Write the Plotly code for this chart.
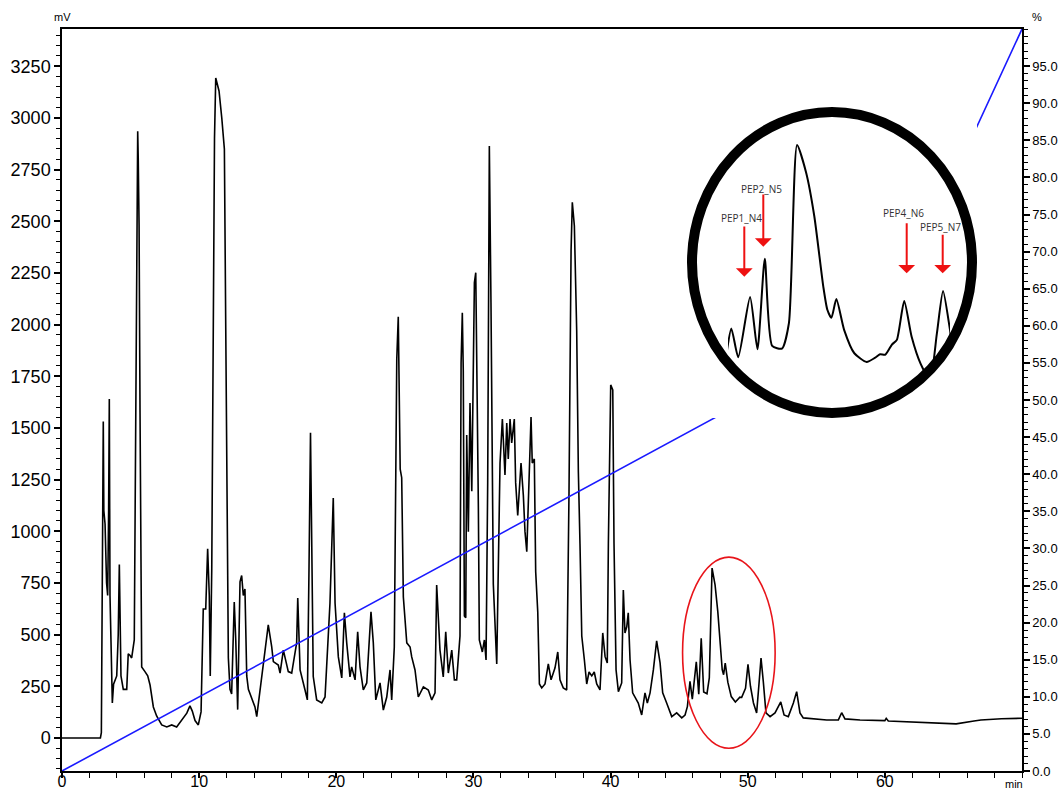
import numpy as np
import plotly.graph_objects as go

# UV trace (time in min, signal in mV)
time_min = [
    0.00, 2.80, 2.87, 2.90, 2.95, 2.98, 3.01, 3.05, 3.14, 3.25, 3.33, 3.40, 3.45, 3.50, 3.67, 3.76,
    3.85, 3.99, 4.10, 4.18, 4.30, 4.47, 4.72, 4.83, 4.95, 5.08, 5.27, 5.37, 5.46, 5.52, 5.56, 5.62,
    5.69, 5.81, 6.05, 6.25, 6.42, 6.66, 6.90, 7.27, 7.64, 8.00, 8.36, 8.73, 9.10, 9.33, 9.50, 9.70,
    9.94, 10.14, 10.30, 10.48, 10.62, 10.74, 10.81, 10.92, 11.03, 11.12, 11.21, 11.45, 11.65, 11.84,
    11.94, 12.13, 12.25, 12.37, 12.56, 12.67, 12.81, 12.98, 13.10, 13.22, 13.34, 13.47, 13.59, 13.83,
    14.07, 14.20, 14.56, 15.04, 15.29, 15.41, 15.77, 15.90, 16.14, 16.50, 16.75, 17.11, 17.19, 17.36,
    17.72, 17.89, 18.01, 18.12, 18.32, 18.57, 18.94, 19.18, 19.54, 19.78, 19.91, 20.15, 20.40, 20.59,
    20.76, 21.00, 21.12, 21.37, 21.56, 21.73, 21.97, 22.22, 22.53, 22.70, 22.88, 23.19, 23.43, 23.68,
    23.92, 24.04, 24.23, 24.35, 24.41, 24.52, 24.66, 24.77, 24.89, 25.14, 25.38, 25.50, 25.74, 25.98,
    26.35, 26.71, 26.96, 27.20, 27.32, 27.56, 27.80, 27.98, 28.17, 28.42, 28.61, 28.78, 29.02, 29.10,
    29.19, 29.26, 29.34, 29.44, 29.51, 29.63, 29.75, 29.88, 30.07, 30.17, 30.24, 30.36, 30.43, 30.65,
    30.80, 30.92, 31.04, 31.16, 31.28, 31.45, 31.70, 31.94, 32.11, 32.30, 32.43, 32.54, 32.67, 32.79,
    32.98, 33.08, 33.23, 33.47, 33.64, 33.76, 33.89, 34.05, 34.20, 34.29, 34.44, 34.54, 34.69, 34.81,
    34.98, 35.22, 35.46, 35.66, 35.95, 36.15, 36.31, 36.55, 36.80, 36.97, 37.12, 37.21, 37.36, 37.53,
    37.65, 37.77, 37.90, 38.09, 38.26, 38.43, 38.63, 38.81, 38.99, 39.23, 39.43, 39.60, 39.76, 39.84,
    40.01, 40.16, 40.25, 40.40, 40.57, 40.81, 40.93, 41.05, 41.18, 41.29, 41.42, 41.61, 41.78, 42.02,
    42.27, 42.51, 42.68, 42.88, 43.12, 43.36, 43.61, 43.80, 44.09, 44.46, 44.82, 45.19, 45.43, 45.60,
    45.79, 45.96, 46.25, 46.43, 46.61, 46.79, 47.03, 47.20, 47.40, 47.62, 47.82, 48.04, 48.14, 48.24,
    48.36, 48.55, 48.80, 49.10, 49.30, 49.43, 49.56, 49.72, 49.84, 50.02, 50.20, 50.42, 50.65, 50.82,
    50.97, 51.14, 51.33, 51.63, 51.99, 52.41, 52.65, 52.96, 53.33, 53.57, 53.81, 54.05, 54.78, 55.76,
    56.61, 56.85, 57.09, 58.19, 60.00, 60.10, 60.25, 62.00, 64.00, 64.75, 65.20, 66.50, 67.00, 68.50,
    70.00,
]
signal_mv = [
    0, 0, 25, 400, 1000, 1090, 1531, 1100, 1035, 750, 689, 1100, 1640, 689, 169, 260,
    278, 300, 500, 839, 300, 235, 235, 407, 400, 387, 474, 1574, 2600, 2935, 2800, 2482,
    1574, 343, 321, 300, 256, 150, 106, 63, 53, 63, 53, 84, 120, 155, 130, 84,
    63, 126, 624, 624, 915, 689, 300, 818, 2093, 2900, 3193, 3130, 3000, 2849,
    1983, 387, 235, 213, 658, 474, 137, 755, 786, 689, 721, 300, 235, 193,
    150, 103, 297, 547, 442, 369, 353, 314, 425, 321, 314, 460, 677, 329,
    232, 184, 813, 1476, 297, 184, 169, 198, 653, 1161, 653, 392, 290, 605,
    460, 295, 344, 281, 513, 344, 232, 266, 610, 460, 184, 266, 135, 198,
    329, 184, 440, 1282, 1833, 2038, 1300, 1259, 682, 460, 440, 392, 329, 198,
    247, 232, 184, 218, 740, 425, 295, 513, 314, 425, 281, 281, 493, 1814,
    2057, 1776, 590, 581, 1466, 998, 1620, 1193, 2203, 2251, 1872, 1115, 474, 416,
    474, 377, 1234, 2864, 2106, 745, 358, 1330, 1543, 1272, 1524, 1350, 1543, 1427,
    1543, 1234, 1076, 1330, 1173, 998, 901, 1253, 1553, 1330, 1350, 804, 610, 261,
    242, 261, 358, 281, 339, 416, 281, 242, 232, 1193, 2358, 2592, 2477, 1969,
    1292, 940, 493, 377, 261, 319, 300, 319, 261, 232, 508, 393, 363, 943,
    1708, 1684, 943, 329, 224, 266, 716, 508, 538, 605, 377, 218, 200, 169,
    111, 218, 169, 218, 329, 470, 363, 218, 169, 103, 121, 97, 111, 151,
    274, 188, 368, 212, 482, 222, 214, 290, 822, 740, 610, 400, 330, 306,
    362, 270, 200, 174, 186, 197, 196, 226, 240, 356, 250, 169, 121, 260,
    386, 270, 121, 103, 121, 174, 111, 103, 169, 224, 121, 97, 92, 87,
    87, 122, 92, 87, 84, 95, 82, 78, 72, 70, 68, 82, 87, 93,
    95,
]

# Solvent B gradient programme (%)
gradient_min = [0, 60, 70]
gradient_pct = [0, 60, 100]

# Axis ticks
mv_ticks = list(range(0, 3251, 250))
pct_ticks = list(range(0, 96, 5))
min_ticks = list(range(0, 61, 10))

# Peak labels shown in the magnified view
peak_labels = ["PEP1_N4", "PEP2_N5", "PEP4_N6", "PEP5_N7"]

W, H = 1060, 790
L, R, T, B = 62, 38, 29, 19
PW, PH = W - L - R, H - T - B


def px2paper(px, py):
    return (px - L) / PW, (H - B - py) / PH


fig = go.Figure()

fig.add_trace(go.Scatter(
    x=time_min, y=signal_mv, mode="lines",
    line=dict(color="black", width=1.6), xaxis="x", yaxis="y",
    hoverinfo="skip", showlegend=False,
))
fig.add_trace(go.Scatter(
    x=gradient_min, y=gradient_pct, mode="lines",
    line=dict(color="#1a1aff", width=1.6), xaxis="x", yaxis="y2",
    hoverinfo="skip", showlegend=False,
))

# white disc behind the magnifier (own pixel-like axes)
circ_cx, circ_cy, circ_rx, circ_ry = 832, 262.5, 145, 155.5
theta = np.linspace(0, 2 * np.pi, 241)
fig.add_trace(go.Scatter(
    x=circ_cx + circ_rx * np.cos(theta), y=circ_cy + circ_ry * np.sin(theta),
    mode="lines", fill="toself", fillcolor="white", line=dict(width=0, color="white"),
    xaxis="x3", yaxis="y3", hoverinfo="skip", showlegend=False,
))

# magnified trace
fig.add_trace(go.Scatter(
    x=time_min, y=signal_mv, mode="lines",
    line=dict(color="black", width=2, shape="spline", smoothing=0.6), xaxis="x4", yaxis="y4",
    hoverinfo="skip", showlegend=False,
))

tick_font = dict(family="Liberation Sans, Arial, sans-serif", size=18, color="black")
pct_font = dict(family="Liberation Sans, Arial, sans-serif", size=13, color="black")

d3x0, d3y0 = px2paper(circ_cx - circ_rx, circ_cy + circ_ry)
d3x1, d3y1 = px2paper(circ_cx + circ_rx, circ_cy - circ_ry)
d4x0, d4y0 = px2paper(728, 373)
d4x1, d4y1 = px2paper(950, 130)

fig.update_layout(
    width=W, height=H,
    margin=dict(l=L, r=R, t=T, b=B, autoexpand=False),
    paper_bgcolor="white", plot_bgcolor="white",
    showlegend=False,
    xaxis=dict(
        range=[0, 70], domain=[0, 1], anchor="y", automargin=False,
        showline=True, linecolor="black", linewidth=1.5, mirror=True,
        showgrid=False, zeroline=False,
        tickmode="array", tickvals=min_ticks, ticktext=[str(v) for v in min_ticks],
        ticks="outside", ticklen=5, tickwidth=1.5, tickcolor="black",
        minor=dict(tickmode="linear", tick0=0, dtick=2, ticks="outside", ticklen=5,
                   tickwidth=1.2, tickcolor="black"),
        tickfont=dict(family="Liberation Sans, Arial, sans-serif", size=16, color="black"),
        ticklabelstandoff=-10,
    ),
    yaxis=dict(
        range=[-160, 3430], domain=[0, 1], anchor="x", automargin=False,
        showline=True, linecolor="black", linewidth=1.5,
        showgrid=False, zeroline=False,
        tickmode="array", tickvals=mv_ticks, ticktext=[str(v) for v in mv_ticks],
        ticks="outside", ticklen=6, tickwidth=1.5, tickcolor="black",
        minor=dict(tickmode="linear", tick0=0, dtick=50, ticks="outside", ticklen=4,
                   tickwidth=1.2, tickcolor="black"),
        tickfont=tick_font,
    ),
    yaxis2=dict(
        range=[0, 100], overlaying="y", side="right", anchor="x", automargin=False,
        showline=True, linecolor="black", linewidth=1.5,
        showgrid=False, zeroline=False,
        tickmode="array", tickvals=pct_ticks, ticktext=[f"{v:.1f}" for v in pct_ticks],
        ticks="outside", ticklen=6, tickwidth=1.5, tickcolor="black",
        minor=dict(tickmode="linear", tick0=0, dtick=1, ticks="outside", ticklen=4,
                   tickwidth=1.2, tickcolor="black"),
        tickfont=pct_font,
    ),
    xaxis3=dict(domain=[d3x0, d3x1], range=[circ_cx - circ_rx, circ_cx + circ_rx],
                anchor="y3", visible=False, automargin=False),
    yaxis3=dict(domain=[d3y0, d3y1], range=[circ_cy + circ_ry, circ_cy - circ_ry],
                anchor="x3", visible=False, automargin=False),
    xaxis4=dict(domain=[d4x0, d4x1], range=[45.71, 51.14], anchor="y4", visible=False,
                automargin=False),
    yaxis4=dict(domain=[d4y0, d4y1], range=[141, 867], anchor="x4", visible=False,
                automargin=False),
)

# magnifier ring
ring_w = 10
rx0, ry0 = px2paper(circ_cx - circ_rx + ring_w / 2, circ_cy + circ_ry - ring_w / 2)
rx1, ry1 = px2paper(circ_cx + circ_rx - ring_w / 2, circ_cy - circ_ry + ring_w / 2)
fig.add_shape(type="circle", xref="paper", yref="paper", x0=rx0, y0=ry0, x1=rx1, y1=ry1,
              line=dict(color="black", width=ring_w), layer="above")

# red ellipse around the region of interest
fig.add_shape(type="circle", xref="x", yref="y", x0=45.25, x1=52.0, y0=-50, y1=875,
              line=dict(color="#e8141a", width=1.6), layer="above")

# axis unit labels
unit_font = dict(family="Liberation Sans, Arial, sans-serif", size=11, color="black")
for txt, (px, py) in [("mV", (62, 17)), ("%", (1037, 17)), ("min", (1014, 784))]:
    ax_, ay_ = px2paper(px, py)
    fig.add_annotation(text=txt, x=ax_, y=ay_, xref="paper", yref="paper",
                       showarrow=False, font=unit_font, xanchor="center", yanchor="middle")

# red arrows with peak names
label_pos = [(741.7, 218.3), (761.0, 189.3), (903.3, 213.3), (940.7, 227.3)]
arrow_x = [744.3, 763.3, 906.7, 942.7]
arrow_top = [225.0, 193.0, 221.7, 233.3]
arrow_tip = [276.7, 246.7, 273.3, 273.3]
lab_font = dict(family="Open Sans, Noto Sans, sans-serif", size=10, color="#333333")
for name, (lx, ly), axp, top, tip in zip(peak_labels, label_pos, arrow_x, arrow_top, arrow_tip):
    tx, ty = px2paper(axp, tip)
    fig.add_annotation(x=tx, y=ty, xref="paper", yref="paper", text="",
                       showarrow=True, ax=0, ay=top - tip, arrowhead=1, arrowsize=1.4,
                       arrowwidth=2, arrowcolor="#ee1111", standoff=0)
    nx, ny = px2paper(lx, ly)
    fig.add_annotation(x=nx, y=ny, xref="paper", yref="paper", text=name,
                       showarrow=False, font=lab_font, xanchor="center", yanchor="middle")

fig.write_html("out.html")
